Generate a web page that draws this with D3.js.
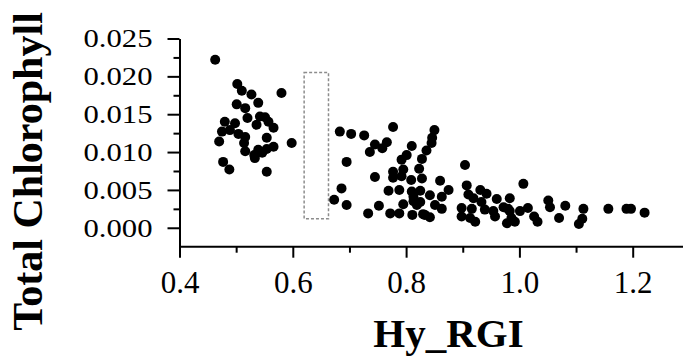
<!DOCTYPE html>
<html>
<head>
<meta charset="utf-8">
<script src="https://cdn.jsdelivr.net/npm/d3@7"></script>
<style>
  body { margin: 0; background: #fff; }
  text { font-family: "Liberation Serif", "Times New Roman", serif; fill: #000; }
</style>
</head>
<body>
<div id="chart"></div>
<script>
// Hy_RGI (x) and Total Chlorophyll (y)
const hyRGI = [
  0.463, 0.502, 0.510, 0.527, 0.580, 0.501, 0.516, 0.539, 0.520, 0.542, 0.551, 0.557,
  0.480, 0.498, 0.536, 0.566, 0.475, 0.489, 0.504, 0.516, 0.554, 0.470, 0.514, 0.598,
  0.566, 0.554, 0.539, 0.516, 0.532, 0.533, 0.477, 0.488, 0.554, 0.546,
  0.683, 0.703, 0.726, 0.777, 0.745, 0.766, 0.758, 0.736, 0.810, 0.695, 0.801, 0.792,
  0.823, 0.745, 0.777, 0.795, 0.777, 0.792, 0.809, 0.686, 0.769, 0.788, 0.810, 0.825,
  0.673, 0.695, 0.752, 0.795, 0.813, 0.819, 0.813, 0.733, 0.772, 0.788, 0.811, 0.830,
  0.850, 0.846, 0.845, 0.836, 0.828, 0.828, 0.904, 0.860, 0.875, 0.842, 0.863, 0.825,
  0.851, 0.863, 0.833, 0.842, 0.907, 0.931, 0.942, 0.910, 0.919, 0.960, 0.983, 0.898,
  0.916, 0.933, 0.939, 0.954, 0.972, 0.983, 0.898, 0.913, 0.922, 0.957, 0.986,
  1.007, 0.980, 1.001, 1.015, 0.978, 0.992, 1.026, 1.032, 1.051, 1.054, 1.081, 1.070,
  1.113, 1.111, 1.105, 1.157, 1.189, 1.197, 1.221
];
const totalChl = [
  0.0222, 0.0190, 0.0181, 0.0176, 0.0178, 0.0163, 0.0158, 0.0165, 0.0145, 0.0147, 0.0146, 0.0140,
  0.0140, 0.0138, 0.0136, 0.0132, 0.0127, 0.0129, 0.0124, 0.0120, 0.0119, 0.0114, 0.0112, 0.0112,
  0.0107, 0.0104, 0.0103, 0.0101, 0.0096, 0.0092, 0.0087, 0.0077, 0.0074, 0.0099,
  0.0127, 0.0124, 0.0122, 0.0133, 0.0110, 0.0113, 0.0105, 0.0100, 0.0108, 0.0087, 0.0096, 0.0090,
  0.0078, 0.0067, 0.0074, 0.0077, 0.0066, 0.0068, 0.0063, 0.0052, 0.0049, 0.0050, 0.0048, 0.0049,
  0.0037, 0.0030, 0.0029, 0.0031, 0.0035, 0.0030, 0.0041, 0.0019, 0.0019, 0.0019, 0.0017, 0.0018,
  0.0129, 0.0119, 0.0112, 0.0102, 0.0091, 0.0065, 0.0083, 0.0062, 0.0050, 0.0043, 0.0041, 0.0034,
  0.0030, 0.0025, 0.0017, 0.0014, 0.0056, 0.0050, 0.0045, 0.0044, 0.0039, 0.0038, 0.0039, 0.0026,
  0.0025, 0.0034, 0.0024, 0.0022, 0.0027, 0.0022, 0.0015, 0.0013, 0.0008, 0.0015, 0.0013,
  0.0058, 0.0025, 0.0022, 0.0026, 0.0006, 0.0008, 0.0015, 0.0008, 0.0036, 0.0027, 0.0029, 0.0013,
  0.0025, 0.0012, 0.0005, 0.0025, 0.0025, 0.0025, 0.0020
];

// dashed highlight box (x from/to, y from/to)
const boxX = [0.620, 0.663];
const boxY = [0.0012, 0.0205];

const xTicks = [0.4, 0.6, 0.8, 1.0, 1.2];
const xMinor = [0.5, 0.7, 0.9, 1.1];
const yTicks = [0, 0.005, 0.01, 0.015, 0.02, 0.025];
const yMinor = [0.0025, 0.0075, 0.0125, 0.0175, 0.0225];

const width = 683;
const height = 360;
const margin = { top: 38.5, right: 0, bottom: 113.3, left: 179.5 };

const svg = d3.select("#chart")
    .append("svg")
    .attr("width", width)
    .attr("height", height);

const x = d3.scaleLinear()
    .domain([0.4, 1.2])
    .range([margin.left, 632.7]);

const y = d3.scaleLinear()
    .domain([-0.0025, 0.025])
    .range([height - margin.bottom, margin.top]);

// minor ticks first, then the main axes on top
svg.append("g")
    .attr("transform", `translate(0,${y(-0.0025)})`)
    .call(d3.axisBottom(x).tickValues(xMinor).tickSize(6).tickFormat(""))
    .call(g => g.select(".domain").remove())
    .selectAll("line").attr("stroke-width", 2);

svg.append("g")
    .attr("transform", `translate(${x(0.4)},0)`)
    .call(d3.axisLeft(y).tickValues(yMinor).tickSize(6).tickFormat(""))
    .call(g => g.select(".domain").remove())
    .selectAll("line").attr("stroke-width", 2);

const xAxis = svg.append("g")
    .attr("transform", `translate(0,${y(-0.0025)})`)
    .call(d3.axisBottom(x).tickValues(xTicks).tickSize(11).tickSizeOuter(0)
        .tickPadding(13).tickFormat(d3.format(".1f")));
xAxis.select(".domain").attr("d", `M${x(0.4)},0H${width}`);

const yAxis = svg.append("g")
    .attr("transform", `translate(${x(0.4)},0)`)
    .call(d3.axisLeft(y).tickValues(yTicks).tickSize(12).tickSizeOuter(0)
        .tickPadding(15).tickFormat(d3.format(".3f")));

[xAxis, yAxis].forEach(g => {
    g.select(".domain").attr("stroke-width", 2);
    g.selectAll("line").attr("stroke-width", 2);
    g.selectAll("text")
        .style("font-family", "'Liberation Serif', serif")
        .attr("fill", "#000");
});
xAxis.selectAll("text").attr("font-size", "31px");

// y labels in the figure are a bit wider than plain Times
const yStretch = 1.18;
yAxis.selectAll("text")
    .attr("font-size", "26px")
    .attr("x", -27 / yStretch)
    .attr("transform", `scale(${yStretch},1)`);

// dashed box
svg.append("rect")
    .attr("x", x(boxX[0]))
    .attr("y", y(boxY[1]))
    .attr("width", x(boxX[1]) - x(boxX[0]))
    .attr("height", y(boxY[0]) - y(boxY[1]))
    .attr("fill", "none")
    .attr("stroke", "#8c8c8c")
    .attr("stroke-width", 1.5)
    .attr("stroke-dasharray", "3,2");

// points
svg.selectAll("circle")
    .data(hyRGI.map((d, i) => [d, totalChl[i]]))
    .enter()
    .append("circle")
    .attr("cx", d => x(d[0]))
    .attr("cy", d => y(d[1]))
    .attr("r", 5)
    .attr("fill", "#000");

// axis titles
svg.append("text")
    .attr("x", 448.5)
    .attr("y", 347)
    .attr("text-anchor", "middle")
    .attr("font-size", "41px")
    .attr("font-weight", "bold")
    .text("Hy_RGI");

svg.append("text")
    .attr("transform", "translate(42,171.5) rotate(-90)")
    .attr("text-anchor", "middle")
    .attr("font-size", "42px")
    .attr("font-weight", "bold")
    .text("Total Chlorophyll");
</script>
</body>
</html>
